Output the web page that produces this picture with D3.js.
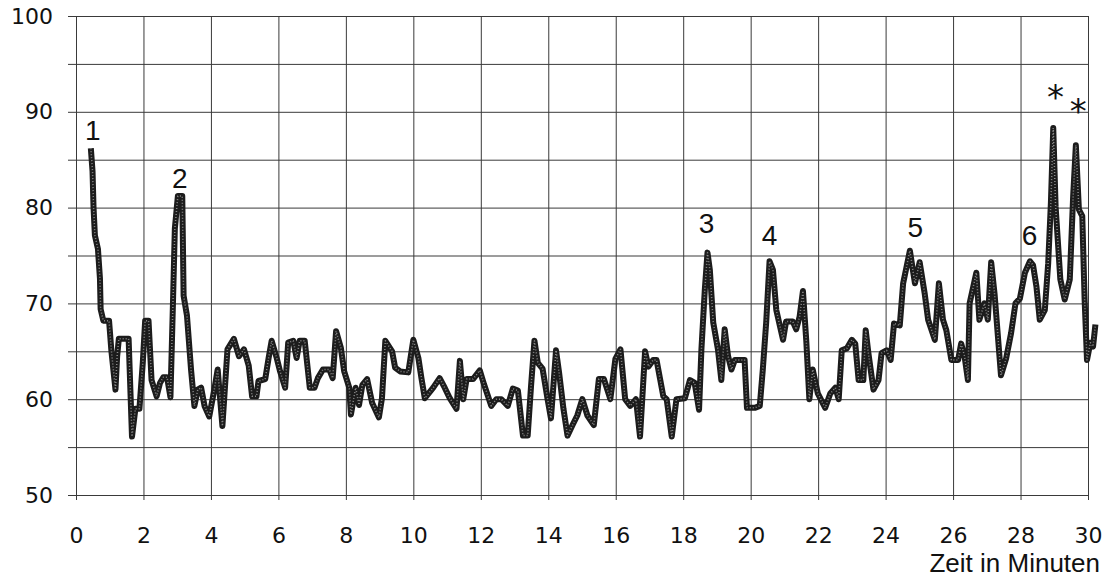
<!DOCTYPE html>
<html lang="de">
<head>
<meta charset="utf-8">
<title>Zeit in Minuten</title>
<script src="https://cdn.jsdelivr.net/npm/d3@7/dist/d3.min.js"></script>
<style>
  body { margin: 0; background: #fff; }
  .grid line { stroke: #3a3a3a; stroke-width: 1; }
  .grid path { display: none; }
  .grid text { fill: #111; font-family: "DejaVu Sans", sans-serif; font-size: 22px; }
  .anno { fill: #111; font-family: "Liberation Sans", Arial, sans-serif; font-size: 28px; text-anchor: middle; }
</style>
</head>
<body>
<script>
// minutes and values
const minutes = [
  0.44, 0.49, 0.52, 0.56, 0.65, 0.71, 0.73, 0.81, 0.98, 1.05, 1.17, 1.22, 1.27, 1.56, 1.66, 1.76, 1.88, 1.98,
  2.05, 2.15, 2.24, 2.39, 2.49, 2.59, 2.7, 2.8, 2.88, 2.93, 3.02, 3.15, 3.19, 3.29, 3.41, 3.51, 3.61, 3.71,
  3.81, 3.95, 4.1, 4.2, 4.34, 4.49, 4.68, 4.83, 4.98, 5.12, 5.22, 5.35, 5.41, 5.61, 5.71, 5.8, 5.95, 6.05,
  6.2, 6.29, 6.44, 6.54, 6.63, 6.78, 6.93, 7.07, 7.17, 7.32, 7.51, 7.61, 7.71, 7.85, 7.95, 8.1, 8.15, 8.29,
  8.39, 8.49, 8.63, 8.78, 8.98, 9.07, 9.17, 9.37, 9.46, 9.61, 9.85, 10.0, 10.15, 10.24, 10.34, 10.59, 10.78,
  10.93, 11.08, 11.28, 11.38, 11.48, 11.58, 11.77, 11.97, 12.1, 12.31, 12.46, 12.61, 12.8, 12.95, 13.1,
  13.25, 13.39, 13.49, 13.59, 13.69, 13.83, 13.98, 14.08, 14.23, 14.32, 14.45, 14.57, 14.72, 14.86, 15.01,
  15.16, 15.35, 15.5, 15.65, 15.84, 15.99, 16.14, 16.28, 16.43, 16.6, 16.72, 16.87, 16.97, 17.11, 17.21,
  17.41, 17.51, 17.66, 17.8, 18.05, 18.2, 18.34, 18.47, 18.54, 18.64, 18.72, 18.79, 18.89, 19.03, 19.13,
  19.23, 19.33, 19.43, 19.53, 19.82, 19.89, 20.12, 20.27, 20.36, 20.46, 20.56, 20.66, 20.76, 20.96, 21.05,
  21.25, 21.35, 21.45, 21.55, 21.65, 21.74, 21.84, 21.99, 22.21, 22.36, 22.51, 22.61, 22.7, 22.85, 23.0,
  23.1, 23.2, 23.34, 23.41, 23.49, 23.64, 23.79, 23.88, 24.03, 24.15, 24.25, 24.42, 24.52, 24.72, 24.87,
  25.01, 25.16, 25.26, 25.46, 25.58, 25.7, 25.8, 25.95, 26.15, 26.24, 26.34, 26.44, 26.49, 26.69, 26.78,
  26.93, 27.03, 27.13, 27.23, 27.42, 27.57, 27.72, 27.85, 27.98, 28.13, 28.28, 28.37, 28.47, 28.57, 28.72,
  28.82, 28.9, 28.97, 29.04, 29.18, 29.31, 29.46, 29.56, 29.64, 29.73, 29.83, 29.9, 29.97, 30.07, 30.15, 30.22
]
const values = [
  86.2, 83.8, 80, 77.1, 75.7, 72.6, 69.4, 68.2, 68.2, 65, 61, 64.5, 66.3, 66.3, 56.1, 59, 59, 63.8,
  68.2, 68.2, 62, 60.3, 61.7, 62.3, 62.3, 60.2, 70.8, 77.8, 81.2, 81.2, 70.8, 68.7, 63.1, 59.3, 61, 61.2,
  59.3, 58.2, 61, 63.1, 57.2, 65.2, 66.3, 64.5, 65.2, 63.5, 60.3, 60.3, 61.9, 62.1, 64.3, 66.1, 64.3, 62.9,
  61.2, 65.9, 66.1, 64.3, 66.1, 66.1, 61.2, 61.2, 62.2, 63.1, 63.1, 62.2, 67.1, 65.4, 62.9, 61.2, 58.4, 61.2,
  59.4, 61.5, 62.1, 59.6, 58.1, 60.1, 66.1, 65, 63.3, 62.9, 62.8, 66.2, 64.3, 62.2, 60.1, 61.2, 62.2,
  61.2, 60.1, 59, 64, 60, 62.1, 62.1, 63, 61.5, 59.3, 60, 60, 59.3, 61.1, 60.9,
  56.2, 56.2, 61.4, 66.1, 63.8, 63.2, 60, 58, 65.1, 62.8, 59, 56.2, 57.3, 58.3, 60,
  58.3, 57.3, 62.1, 62.1, 60, 64.2, 65.2, 60, 59.3, 60, 56.1, 65, 63.4, 64.1, 64.1,
  60.3, 60, 56.1, 60, 60.1, 62, 61.7, 58.9, 65.2, 71.4, 75.3, 73.5, 68, 65.2, 62,
  67.3, 64.5, 63.1, 64.1, 64.1, 59.1, 59.1, 59.3, 63.1, 68, 74.4, 73.5, 69.3, 66.2, 68.1,
  68.1, 67.3, 68.6, 71.3, 66, 60, 63.1, 60.6, 59.1, 60.6, 61.2, 60, 65.1, 65.3, 66.2,
  65.8, 62, 62, 67.2, 64.8, 61, 62, 64.8, 65.1, 64.1, 67.9, 67.7, 72.1, 75.5, 72.1,
  74.3, 71, 68.3, 66.2, 72.1, 68.3, 67.2, 64.1, 64.1, 65.8, 64.5, 62, 70, 73.2, 68.3,
  70, 68.3, 74.3, 71, 62.5, 64.2, 66.9, 70, 70.5, 73.2, 74.4, 74, 71.8, 68.3, 69.3,
  74.2, 80.5, 88.3, 80.1, 72.5, 70.4, 72.5, 81.2, 86.5, 79.8, 79.1, 70.4, 64.1, 65.9, 65.5, 67.8
]

const xTicks = d3.range(0, 31, 2)
const yTicks = d3.range(50, 101, 5)
const yLabels = [50, 60, 70, 80, 90, 100]

const annoText = ["1", "2", "3", "4", "5", "6"]
const annoTime = [0.5, 3.08, 18.69, 20.56, 24.88, 28.27]
const annoValue = [87.06, 82.05, 77.35, 76.1, 76.9, 76.1]
const starTime = [29.04, 29.71]
const starValue = [90.34, 88.83]

const w = 1108
const h = 578

const svg = d3.select("body").append("svg")
              .attr("width", w)
              .attr("height", h)

const x = d3.scaleLinear().domain([0, 30]).range([76, 1088])
const y = d3.scaleLinear().domain([50, 100]).range([495, 16])

// horizontal grid with the y labels
svg.append("g")
   .attr("class", "grid")
   .attr("transform", "translate(68,0)")
   .call(d3.axisLeft(y).tickValues(yTicks).tickSize(-(1088 - 68)).tickPadding(15)
           .tickFormat(d => yLabels.includes(d) ? d : ""))

// vertical grid with the x labels
svg.append("g")
   .attr("class", "grid")
   .attr("transform", "translate(0,500)")
   .call(d3.axisBottom(x).tickValues(xTicks).tickSize(-(500 - 16)).tickPadding(27))

svg.append("text")
   .attr("x", 1100)
   .attr("y", 572)
   .attr("text-anchor", "end")
   .attr("fill", "#111")
   .style("font-family", "'Liberation Sans', Arial, sans-serif")
   .style("font-size", "26px")
   .text("Zeit in Minuten")

const line = d3.line()
               .x((d, i) => x(minutes[i]))
               .y(d => y(d))

// thick dark trace, then a fine dotted pass for the stippled look
svg.append("path")
   .datum(values)
   .attr("d", line)
   .attr("fill", "none")
   .attr("stroke", "#1c1c1c")
   .attr("stroke-width", 6)
   .attr("stroke-linejoin", "round")

svg.append("path")
   .datum(values)
   .attr("d", line)
   .attr("fill", "none")
   .attr("stroke", "#8a8a8a")
   .attr("stroke-width", 1.5)
   .attr("stroke-dasharray", "1 2")
   .attr("stroke-linejoin", "round")

svg.selectAll("text.anno")
   .data(annoText)
   .enter()
   .append("text")
   .attr("class", "anno")
   .attr("x", (d, i) => x(annoTime[i]))
   .attr("y", (d, i) => y(annoValue[i]))
   .text(d => d)

svg.selectAll("text.star")
   .data(starTime)
   .enter()
   .append("text")
   .attr("class", "star")
   .attr("x", d => x(d))
   .attr("y", (d, i) => y(starValue[i]))
   .attr("text-anchor", "middle")
   .attr("fill", "#111")
   .style("font-family", "'DejaVu Sans', sans-serif")
   .style("font-size", "34px")
   .text("*")
</script>
</body>
</html>
